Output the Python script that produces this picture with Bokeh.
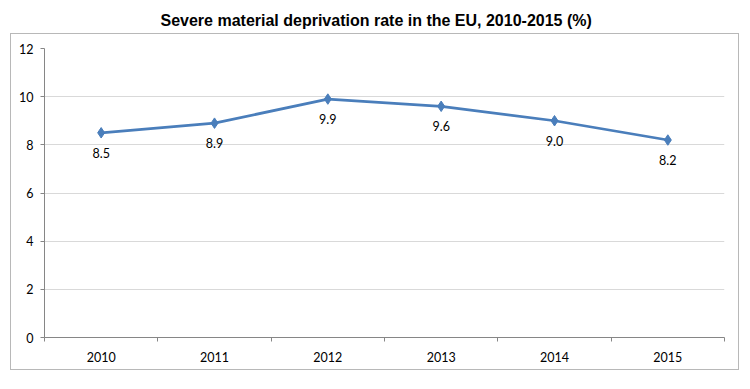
from bokeh.plotting import figure
from bokeh.models import Range1d, FixedTicker, ColumnDataSource, InlineStyleSheet, Title
from bokeh.core.properties import value
from bokeh.embed import file_html
from bokeh.resources import INLINE

years = ["2010", "2011", "2012", "2013", "2014", "2015"]
rates = [8.5, 8.9, 9.9, 9.6, 9.0, 8.2]
rate_labels = ["8.5", "8.9", "9.9", "9.6", "9.0", "8.2"]
y_ticks = [0, 2, 4, 6, 8, 10, 12]
title_text = "Severe material deprivation rate in the EU, 2010-2015 (%)"

xpos = [i + 0.5 for i in range(len(years))]
src = ColumnDataSource(dict(x=xpos, y=rates, lab=rate_labels))

FONT = "Lato"
LINE = "#4A7EBB"

# light grey frame around the chart area (below the title)
box_css = InlineStyleSheet(css="""
:host { position: relative; }
:host::after {
  content: ''; position: absolute; left: 10px; top: 33px; width: 729px; height: 337px;
  box-sizing: border-box; border: 1.5px solid #B8B8B8; pointer-events: none; z-index: 5;
}
""")

p = figure(width=750, height=389, output_backend="svg", toolbar_location=None, title=None,
           x_range=Range1d(0, len(years)), y_range=Range1d(0, 12),
           min_border_left=44, min_border_right=26, min_border_top=48, min_border_bottom=52,
           stylesheets=[box_css])
p.outline_line_color = None
p.background_fill_color = "white"
p.border_fill_color = "white"

# spacer between the frame and the title (first added = nearest the frame)
p.add_layout(Title(text=" ", text_font_size="1px", standoff=17), "above")
p.add_layout(Title(text=title_text, align="left", offset=116, standoff=0,
                   text_font="Liberation Sans", text_font_style="bold",
                   text_font_size="16px", text_color="#000000"), "above")

# grid
p.xgrid.grid_line_color = None
p.ygrid.grid_line_color = "#D9D9D9"
p.ygrid.grid_line_width = 1

# y axis
p.yaxis.ticker = FixedTicker(ticks=y_ticks, minor_ticks=[])
p.yaxis.axis_line_color = "#868686"
p.yaxis.major_tick_line_color = "#868686"
p.yaxis.major_tick_out = 4
p.yaxis.major_tick_in = 0
p.yaxis.minor_tick_line_color = None
p.yaxis.major_label_standoff = 7
p.yaxis.major_label_text_font = FONT
p.yaxis.major_label_text_font_size = "12.5px"
p.yaxis.major_label_text_color = "#000000"

# x axis: labels at category centres, ticks at boundaries
p.xaxis.ticker = FixedTicker(ticks=xpos, minor_ticks=list(range(len(years) + 1)))
p.xaxis.major_label_overrides = {x: y for x, y in zip(xpos, years)}
p.xaxis.axis_line_color = "#868686"
p.xaxis.major_tick_line_color = None
p.xaxis.major_tick_out = 0
p.xaxis.major_tick_in = 0
p.xaxis.minor_tick_line_color = "#868686"
p.xaxis.minor_tick_out = 4
p.xaxis.minor_tick_in = 0
p.xaxis.major_label_standoff = 10
p.xaxis.major_label_text_font = FONT
p.xaxis.major_label_text_font_size = "12.5px"
p.xaxis.major_label_text_color = "#000000"

p.line("x", "y", source=src, line_color=LINE, line_width=2.75)
p.scatter("x", "y", source=src, marker="diamond", size=10.5, fill_color=LINE, line_color=LINE)
p.text("x", "y", text="lab", source=src, text_align="center", text_baseline="middle",
       y_offset=20, text_font=value(FONT), text_font_size="12.5px", text_color="#000000")

open("out.html", "w").write(file_html(p, INLINE))
